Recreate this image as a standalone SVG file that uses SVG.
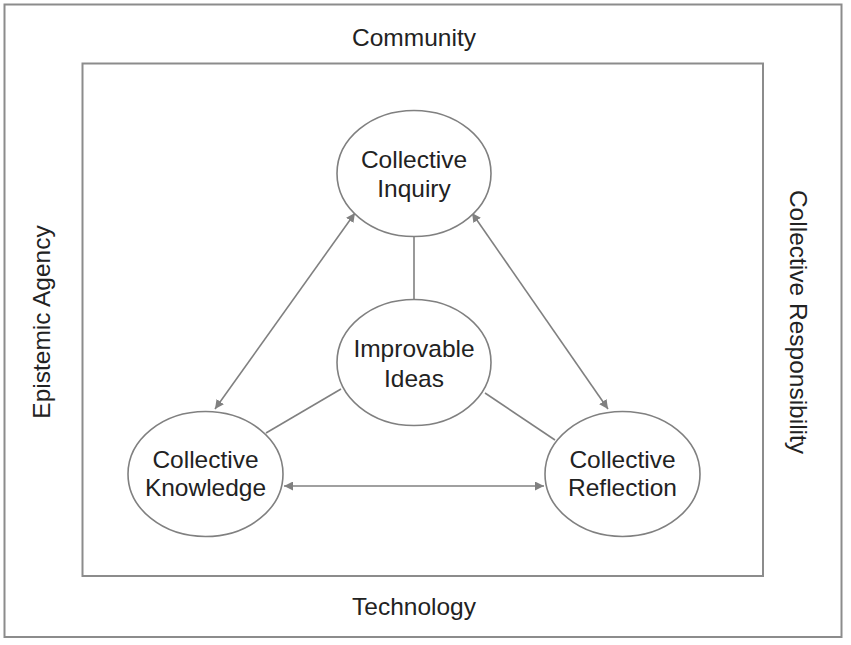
<svg xmlns="http://www.w3.org/2000/svg" width="851" height="645" viewBox="0 0 851 645">
<style>
.frame{fill:none;stroke:#8c8c8c;stroke-width:2}
.node ellipse{fill:#fff;stroke:#808080;stroke-width:1.6}
.lbl{font-family:"Liberation Sans",Arial,sans-serif;font-size:24.5px;fill:#222;text-anchor:middle}
.conn{stroke:#808080;stroke-width:1.6;fill:none}
.arr{marker-start:url(#ah);marker-end:url(#ah)}
</style>
<defs>
<marker id="ah" viewBox="0 0 10 10" refX="10" refY="5" markerWidth="9" markerHeight="9" markerUnits="userSpaceOnUse" orient="auto-start-reverse">
<path d="M0,0 L10,5 L0,10 Z" fill="#808080"/>
</marker>
</defs>
<rect width="851" height="645" fill="#fff"/>
<rect class="frame" x="4.5" y="4.5" width="837" height="632.5"/>
<rect class="frame" x="82.5" y="63.5" width="680.5" height="512.5"/>
<text class="lbl" x="414" y="46">Community</text>
<text class="lbl" x="414" y="615">Technology</text>
<text class="lbl" transform="translate(50,322) rotate(-90)">Epistemic Agency</text>
<text class="lbl" transform="translate(790,322) rotate(90)">Collective Responsibility</text>
<g id="connectors">
<line class="conn" x1="414" y1="236" x2="414" y2="299"/>
<line class="conn" x1="266" y1="433" x2="341" y2="389"/>
<line class="conn" x1="485" y1="393" x2="555" y2="440"/>
<line class="conn arr" x1="284" y1="486" x2="544" y2="486"/>
<line class="conn arr" x1="215" y1="409" x2="355" y2="213"/>
<line class="conn arr" x1="608" y1="409" x2="472" y2="213"/>
</g>
<g id="inquiry" class="node">
<ellipse cx="414" cy="173.5" rx="77" ry="63"/>
<text class="lbl" x="414" y="168">Collective</text>
<text class="lbl" x="414" y="197">Inquiry</text>
</g>
<g id="ideas" class="node">
<ellipse cx="414" cy="362.5" rx="77" ry="63"/>
<text class="lbl" x="414" y="357">Improvable</text>
<text class="lbl" x="414" y="386.5">Ideas</text>
</g>
<g id="knowledge" class="node">
<ellipse cx="205.5" cy="474" rx="77.5" ry="62.5"/>
<text class="lbl" x="205.5" y="467.5">Collective</text>
<text class="lbl" x="205.5" y="496">Knowledge</text>
</g>
<g id="reflection" class="node">
<ellipse cx="622.5" cy="474" rx="77.5" ry="62.5"/>
<text class="lbl" x="622.5" y="467.5">Collective</text>
<text class="lbl" x="622.5" y="496">Reflection</text>
</g>
</svg>
